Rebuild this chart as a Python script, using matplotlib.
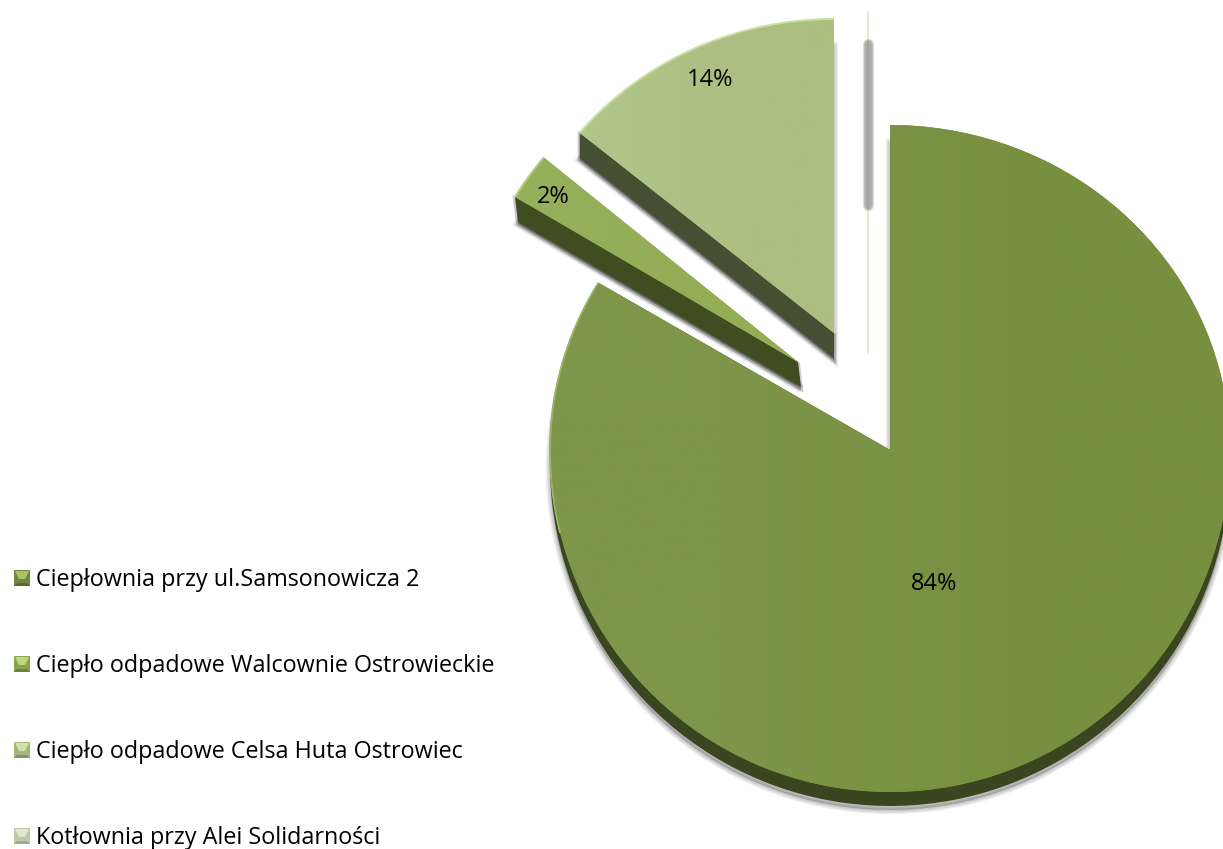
import numpy as np
import matplotlib
matplotlib.use('Agg')
import matplotlib.pyplot as plt
from matplotlib.colors import to_rgb
from matplotlib.patches import PathPatch, Polygon
from matplotlib.path import Path

labels = ['Ciepłownia przy ul.Samsonowicza 2',
          'Ciepło odpadowe Walcownie Ostrowieckie',
          'Ciepło odpadowe Celsa Huta Ostrowiec',
          'Kotłownia przy Alei Solidarności']
values = [83.6, 2.4, 14.0, 0]

face_left = ['#7d964a', '#95b05a', '#b1c68a', '#d5e0c0']
face_right = ['#76903f', '#92ad55', '#aabf80', '#d5e0c0']
side_colors = ['#3a4620', '#3f4d20', '#454f32', '#c6d2b0']
rim_colors = ['#98b464', '#b5d27c', '#c8e0a0', '#d8e4b8']
legend_body = ['#6f8840', '#88a34e', '#a3b87c', '#bcc8a8']
legend_top = ['#a6c464', '#bcd97e', '#d2e2ac', '#e0e8d2']
legend_bottom = ['#566a30', '#6a803c', '#84966a', '#a0aa90']

# tip x, tip y, rx, ry up, ry down, side depth dx, dy
geom = [(890, 450, 340, 325, 342, 0, 14),
        (798, 362, 330, 321, 321, 3, 25),
        (834, 333, 330, 314, 314, 0, 25),
        (868, 353, 330, 341, 341, 0, 0)]
label_pos = [(934, 590), (553, 203), (710, 86), None]
legend_y = [578, 664, 750, 836]

fig = plt.figure(figsize=(12.23, 8.49), dpi=100)
ax = fig.add_axes([0, 0, 1, 1])
wedges, _ = ax.pie(values, startangle=90, counterclock=False, radius=1)


def place(vertices, g, dx=0, dy=0):
    u = vertices[:, 0]
    v = vertices[:, 1]
    x = g[0] + u * g[2] + dx
    y = g[1] - v * np.where(v > 0, g[3], g[4]) + dy
    return np.column_stack([x, y])


def arc_points(theta1, theta2, g):
    t = np.radians(np.linspace(theta1, theta2, 200))
    return place(np.column_stack([np.cos(t), np.sin(t)]), g)


def add_shadow(path, rim, zorder):
    for k in range(rim):
        ax.add_patch(PathPatch(path, facecolor='#000000', edgecolor='#000000',
                               lw=2 * (rim - k), alpha=0.07, zorder=zorder))


slices = []
for w in wedges:
    slices.append((w.get_path().vertices.copy(), w.get_path().codes.copy(), w.theta1, w.theta2))
    w.remove()

z = 2
for i in [0, 1, 2]:
    verts, codes, t1, t2 = slices[i]
    g = geom[i]
    # clockwise slices: the lower corner is the far end of the arc
    corner = arc_points(t1 if i == 0 else t2, t1 if i == 0 else t2, g)[0]
    tip = (g[0], g[1])
    dx, dy = g[5], g[6]
    wall = [corner, (corner[0] + dx, corner[1] + dy), (tip[0] + dx, tip[1] + dy), tip]
    shadow = Path(place(verts, g, dx, dy + (4 if i == 0 else 2)), codes)
    add_shadow(shadow, 3, z)
    if i > 0:
        ax.add_patch(Polygon([(p[0], p[1] + 2) for p in wall], facecolor='#000000', alpha=0.2,
                             edgecolor='#000000', lw=3, zorder=z))
    side = Path(place(verts, g, dx, dy), codes)
    ax.add_patch(PathPatch(side, facecolor=side_colors[i], edgecolor='none', zorder=z + 0.1))
    ax.add_patch(Polygon(wall, facecolor=side_colors[i], edgecolor='none', zorder=z + 0.1))
    top = PathPatch(Path(place(verts, g), codes), facecolor=face_right[i],
                    edgecolor='none', zorder=z + 0.2)
    ax.add_patch(top)
    grad = np.array([[to_rgb(face_left[i]), to_rgb(face_right[i])]])
    x1 = g[0] + g[2] if i == 0 else g[0]
    im = ax.imshow(grad, extent=[g[0] - g[2], x1, 849, 0], aspect='auto',
                   interpolation='bilinear', zorder=z + 0.3)
    im.set_clip_path(top)
    # light bevel along the outer edge
    if i == 0:
        rim = arc_points(t1, t1 + 45, g)
    else:
        rim = arc_points(t1, t2, g)
    ax.plot(rim[:, 0], rim[:, 1], color=rim_colors[i], lw=1.4, zorder=z + 0.4,
            solid_capstyle='butt')
    z += 1

# the empty slice is only a hairline with its shadow
t_zero = slices[3][2]
zero = arc_points(t_zero, t_zero, geom[3])[0]
ax.plot([geom[3][0], zero[0]], [geom[3][1], zero[1]], color=rim_colors[3], lw=1, zorder=1)
for lw, a in [(8, 0.25), (6.5, 0.3), (5, 0.2)]:
    ax.plot([geom[3][0], geom[3][0]], [44, 205], color='#777777', lw=lw, alpha=a,
            solid_capstyle='round', zorder=1.5)

for v, pos in zip(values, label_pos):
    if pos is not None:
        ax.text(pos[0], pos[1], f'{v:.0f}%', ha='center', va='baseline', fontsize=17,
                family='Open Sans', color='black', zorder=10)

for i, name in enumerate(labels):
    y = legend_y[i]
    x0, x1, y0, y1 = 14, 30, y - 8, y + 8
    ax.add_patch(Polygon([(x0, y0), (x1, y0), (x1, y1), (x0, y1)], facecolor=legend_body[i],
                         edgecolor='none', zorder=5))
    ax.add_patch(Polygon([(x0 + 1, y0 + 1), (x1 - 1, y0 + 1), (x1 - 5, y0 + 9), (x0 + 5, y0 + 9)],
                         facecolor=legend_top[i], edgecolor='none', zorder=6))
    ax.add_patch(Polygon([(x0, y1), (x1, y1), (x1 - 3, y1 - 3), (x0 + 3, y1 - 3)],
                         facecolor=legend_bottom[i], edgecolor='none', zorder=6))
    ax.text(35.5, y + 8, name, ha='left', va='baseline', fontsize=16.8, family='Open Sans',
            color='black', zorder=10)

ax.set_aspect('auto')
ax.set_xlim(0, 1223)
ax.set_ylim(849, 0)
ax.axis('off')
fig.savefig('out.png', dpi=100, facecolor='white')
